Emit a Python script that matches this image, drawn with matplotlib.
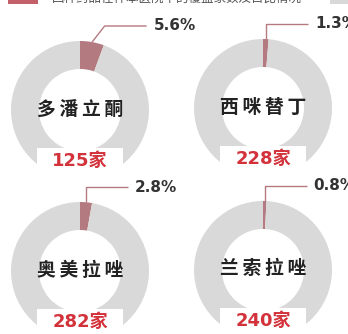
import numpy as np
import matplotlib
matplotlib.use("Agg")
import matplotlib.pyplot as plt
from matplotlib.patches import Rectangle

plt.rcParams['font.family'] = ['Noto Sans CJK SC', 'DejaVu Sans']

# data
drugs = ["多潘立酮", "西咪替丁", "奥美拉唑", "兰索拉唑"]
hospitals = [125, 228, 282, 240]
shares = [5.6, 1.3, 2.8, 0.8]

W, H = 348, 334
fig = plt.figure(figsize=(W / 100, H / 100), dpi=100)
ax = fig.add_axes([0, 0, 1, 1])

# layout (pixel units, y measured upward)
centers = [(80, 224), (263, 226), (80, 63), (263, 64)]
R_OUT, RING_W = 69, 28
leader_angle = [52, 90, 90, 90]
label_rise = 84
hline_len = 42
gap_w = 86

share_color = "#b37a80"
rest_color = "#d9d9d9"
count_color = "#d3323b"

for name, n, pct, (cx, cy), la in zip(drugs, hospitals, shares, centers, leader_angle):
    frac = pct / 100.0
    ax.pie([frac, 1 - frac], colors=[share_color, rest_color], startangle=90,
           counterclock=False, radius=R_OUT, center=(cx, cy),
           wedgeprops=dict(width=RING_W, edgecolor="none"))
    ax.text(cx, cy + 1, "\u2009".join(name), ha="center", va="center", fontsize=13.5,
            fontweight="bold", color="#222222")
    # blank strip under the ring that holds the hospital count
    ax.add_patch(Rectangle((cx - gap_w / 2, cy - 80), gap_w, 42, fc="white",
                           ec="none", zorder=3))
    ax.text(cx, cy - 51, f"{n}家", ha="center", va="center", fontsize=13,
            fontweight="bold", color=count_color, zorder=4,
            family=['DejaVu Sans', 'Noto Sans CJK SC'])
    # leader line from the middle of the share wedge
    mid = np.deg2rad(90 - frac * 360 / 2)
    sx, sy = cx + R_OUT * np.cos(mid), cy + R_OUT * np.sin(mid)
    ky = cy + label_rise
    kx = sx + (ky - sy) / np.tan(np.deg2rad(la))
    ax.plot([sx, kx, kx + hline_len], [sy, ky, ky], color=share_color, lw=1.0,
            solid_capstyle="butt", zorder=5)
    ax.text(kx + hline_len + 7, ky, f"{pct}%", ha="left", va="center",
            fontsize=11, fontweight="bold", color="#333333", family="DejaVu Sans",
            zorder=5)

# legend row along the top edge
ax.add_patch(Rectangle((8, H - 4), 30, 12, fc="#c4606a", ec="none"))
ax.text(52, H + 2, "四种药品在样本医院中的覆盖家数及占比情况", ha="left",
        va="center", fontsize=9, color="#555555")
ax.add_patch(Rectangle((330, H - 4), 30, 12, fc=rest_color, ec="none"))

ax.set_xlim(0, W)
ax.set_ylim(0, H)
ax.set_aspect("auto")
ax.axis("off")
fig.savefig("out.png", dpi=100)
